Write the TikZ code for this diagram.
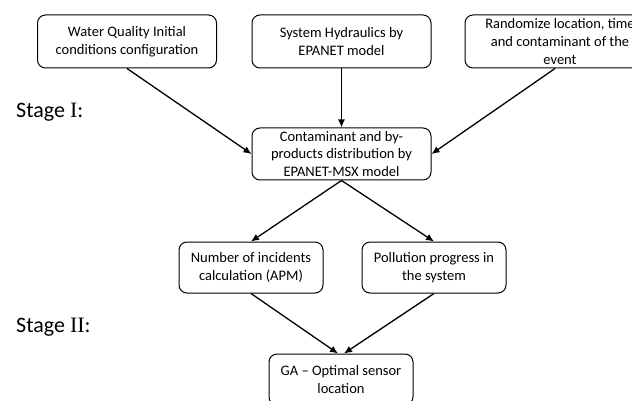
\documentclass[tikz,border=0pt]{standalone}
\usepackage{fontspec}
\setmainfont{Carlito}
\newfontfamily\romannum{Liberation Serif}
\usepackage{tikz}
\usetikzlibrary{calc, positioning, arrows.meta}

\tikzset{
    procbox/.style={draw, line width=1pt, rounded corners=8pt, align=center,
        minimum width=179pt, minimum height=53pt, inner sep=1pt,
        font=\fontsize{14.5}{17.6}\selectfont},
    smallbox/.style={procbox, minimum width=144pt, minimum height=51pt},
    flowarrow/.style={line width=1.3pt, -{Latex[length=8pt,width=7pt]}},
    stagelabel/.style={anchor=west, inner sep=0pt, font=\fontsize{22}{26}\selectfont}
}

\begin{document}
\begin{tikzpicture}[x=1pt, y=-1pt]
            \useasboundingbox (0,0) rectangle (632,401);

            % top row
            \node[procbox] (wq) at (127,41.5) {Water Quality Initial\\conditions configuration};
            \node[procbox] (hyd) at (341.5,41.5) {System Hydraulics by\\EPANET model};
            \node[procbox, minimum width=190pt] (rnd) at (560,41.5) {Randomize location, time\\and contaminant of the\\event};

            \node[procbox, minimum height=52pt] (msx) at (341.5,154) {Contaminant and by-\\products distribution by\\EPANET-MSX model};

            % second stage
            \node[smallbox] (apm) at (251,267.5) {Number of incidents\\calculation (APM)};
            \node[smallbox] (prog) at (434,267.5) {Pollution progress in\\the system};
            \node[smallbox] (ga) at (341,379.5) {GA -- Optimal sensor\\location};

            \node[stagelabel] (stone) at (16,112) {Stage {\romannum I}:};
            \node[stagelabel] (sttwo) at (16,327) {Stage {\romannum II}:};

            \draw[flowarrow] ([xshift=-5pt]rnd.south) -- (msx.east);
            \draw[flowarrow] (wq.south) -- (msx.west);
            \draw[flowarrow] (hyd.south) -- (msx.north);
            \draw[flowarrow] (msx.south) -- (apm.north);
            \draw[flowarrow] (msx.south) -- (prog.north);
            \draw[flowarrow] (apm.south) -- ([xshift=-3pt]ga.north);
            \draw[flowarrow] (prog.south) -- ([xshift=3pt]ga.north);

        \end{tikzpicture}
\end{document}
